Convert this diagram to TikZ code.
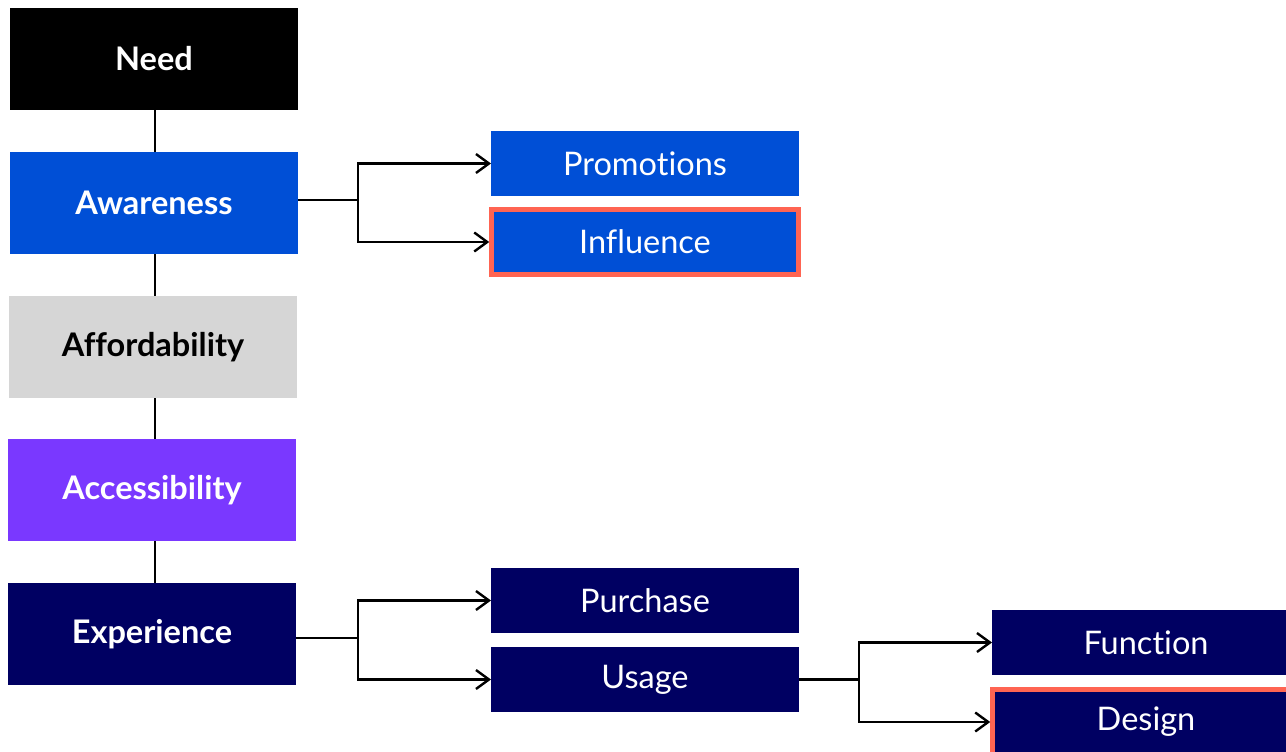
\documentclass[tikz,border=0pt]{standalone}
\usepackage{fontspec}
\setmainfont{Lato}[Ligatures=NoCommon]
\usetikzlibrary{arrows.meta}
\definecolor{needc}{HTML}{000000}
\definecolor{awarec}{HTML}{004FD6}
\definecolor{affordc}{HTML}{D6D6D6}
\definecolor{accessc}{HTML}{7A38FF}
\definecolor{navyc}{HTML}{000062}
\definecolor{hilite}{HTML}{FF6452}
\begin{document}
\begin{tikzpicture}[x=1pt,y=-1pt,
  box/.style={rectangle, inner sep=0pt, outer sep=0pt, text=white},
  stage/.style={box, minimum width=288pt, minimum height=102pt,
    font=\bfseries\fontsize{32.5}{38}\selectfont},
  sub/.style={box, minimum width=308pt, minimum height=65pt,
    font=\fontsize{32.5}{38}\selectfont},
  hl/.style={draw=hilite, line width=4.5pt},
  link/.style={line width=2.4pt, draw=black},
  branch/.style={link, -{Straight Barb[length=13pt,width=19pt,line width=2.4pt]}}
]
\clip (0,0) rectangle (1286,752);
\fill[white] (0,0) rectangle (1286,752);

% main stages
\node[stage, fill=needc]   (need)   at (154,59)  {Need};
\node[stage, fill=awarec]  (aware)  at (154,203) {Awareness};
\node[stage, fill=affordc, text=black] (afford) at (153,347) {Affordability};
\node[stage, fill=accessc] (access) at (152,490) {Accessibility};
\node[stage, fill=navyc]   (exper)  at (152,634) {Experience};

% awareness branch
\node[sub, fill=awarec] (promo) at (645,163.5) {Promotions};
\node[sub, fill=awarec, hl, minimum width=307pt] (infl) at (645,242) {Influence};

% experience branch
\node[sub, fill=navyc] (purch) at (645,600.5) {Purchase};
\node[sub, fill=navyc] (usage) at (645,679.5) {Usage};

% usage branch
\node[sub, fill=navyc] (func) at (1146,642.5) {Function};
\node[sub, fill=navyc, hl, minimum width=307pt] (design) at (1146,722) {Design};

% spine, kept on one vertical line
\draw[link] ([xshift=1pt]need.south) -- ([xshift=1pt]need.south |- aware.north);
\draw[link] ([xshift=1pt]aware.south) -- ([xshift=1pt]aware.south |- afford.north);
\draw[link] ([xshift=2pt]afford.south) -- ([xshift=2pt]afford.south |- access.north);
\draw[link] ([xshift=3pt]access.south) -- ([xshift=3pt]access.south |- exper.north);

% branches
\draw[branch] ([yshift=3pt]aware.east) -- ++(60,0) |- (promo.west);
\draw[branch] ([yshift=3pt]aware.east) -- ++(60,0) |- ([xshift=-2.25pt]infl.west);
\draw[branch] ([yshift=-4pt]exper.east) -- ++(62,0) |- (purch.west);
\draw[branch] ([yshift=-4pt]exper.east) -- ++(62,0) |- (usage.west);
\draw[branch] (usage.east) -- ++(60,0) |- (func.west);
\draw[branch] (usage.east) -- ++(60,0) |- ([xshift=-2.25pt]design.west);
\end{tikzpicture}
\end{document}
